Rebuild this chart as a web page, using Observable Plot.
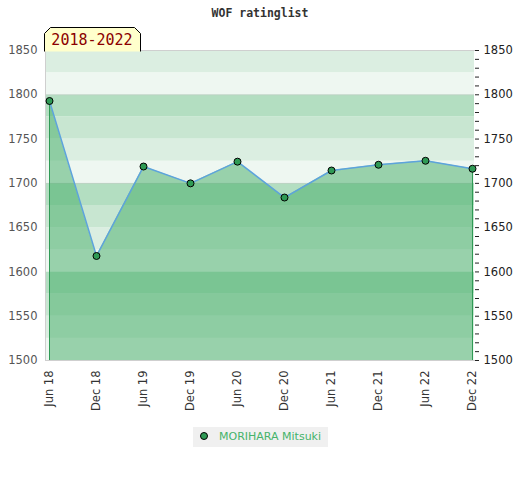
<!DOCTYPE html>
<html>
<head>
<meta charset="utf-8">
<script src="https://cdn.jsdelivr.net/npm/d3@7"></script>
<script src="https://cdn.jsdelivr.net/npm/@observablehq/plot@0.6"></script>
<style>
  html, body { margin: 0; padding: 0; background: #fff; }
  #wrap { position: relative; width: 520px; height: 480px; font-family: "DejaVu Sans", sans-serif; }
  #title { position: absolute; left: 0; width: 520px; top: 6px; text-align: center;
           font: bold 11.5px "DejaVu Sans Mono", monospace; color: #333; }
  #badge { position: absolute; left: 44px; top: 27px; }
  #chart { position: absolute; left: 0; top: 0; }
  #legend { position: absolute; left: 193px; top: 427px; width: 135px; height: 20px; background: #f0f0f0; }
  #legend svg { position: absolute; left: 0; top: 0; }
  #legend span { position: absolute; left: 26px; top: 3px; font: 11px "DejaVu Sans", sans-serif; color: #45b36a; white-space: nowrap; }
</style>
</head>
<body>
<div id="wrap">
  <div id="chart"></div>
  <div id="title">WOF ratinglist</div>
  <svg id="badge" width="100" height="26">
    <path d="M0.5,24.5 V6.5 L6.5,0.5 H90.5 L96.5,6.5 V24.5" fill="#ffffcc" stroke="#000" stroke-width="1"/>
    <text x="48" y="18" text-anchor="middle" font-family="DejaVu Sans Mono, monospace" font-size="15" fill="#8b0000">2018-2022</text>
  </svg>
  <div id="legend">
    <svg width="30" height="20"><circle cx="11" cy="9" r="3.5" fill="#2f9a55" stroke="#000" stroke-width="1"/></svg>
    <span>MORIHARA Mitsuki</span>
  </div>
</div>
<script>
const periods = ["Jun 18","Dec 18","Jun 19","Dec 19","Jun 20","Dec 20","Jun 21","Dec 21","Jun 22","Dec 22"];
const ratings = [1793, 1618, 1719, 1700, 1724.5, 1684, 1714.5, 1721, 1725.5, 1716.5];
const yTicks = [1500, 1550, 1600, 1650, 1700, 1750, 1800, 1850];
const bandStarts = d3.range(1500, 1850, 25);
const bandShades = ["#eef7f1", "#dbeee1", "#c8e6d1", "#b3dec1"];
const playerName = "MORIHARA Mitsuki";

const data = periods.map((p, i) => ({period: p, rating: ratings[i]}));
const bands = bandStarts.map(b => ({y1: b, y2: b + 25, shade: bandShades[((b - 1500) / 25) % 4]}));
const minorTicks = d3.range(1500, 1851, 10);
const first = data[0], last = data[data.length - 1];

const chart = Plot.plot({
  width: 520,
  height: 420,
  marginLeft: 45,
  marginRight: 46,
  marginTop: 50,
  marginBottom: 60,
  style: {fontFamily: "DejaVu Sans, sans-serif", fontSize: "11.5px", background: "transparent"},
  x: {type: "point", domain: periods, padding: 0, insetLeft: 4, insetRight: 2},
  y: {domain: [1500, 1850]},
  marks: [
    Plot.rect(bands, {y1: "y1", y2: "y2", fill: "shade"}),
    Plot.ruleY([1800, 1700], {stroke: "#c8c8c8", strokeWidth: 1, strokeOpacity: 0.5}),
    Plot.frame({anchor: "left", stroke: "#cfcfcf"}),
    Plot.frame({anchor: "top", stroke: "#cfcfcf"}),
    Plot.frame({anchor: "bottom", stroke: "#cfcfcf"}),
    Plot.areaY(data, {x: "period", y1: 1500, y2: "rating", fill: "rgb(65,171,101)", fillOpacity: 0.5}),
    Plot.ruleX([first, last], {x: "period", y1: 1500, y2: "rating", stroke: "#2f9a55", strokeWidth: 1}),
    Plot.lineY(data, {x: "period", y: "rating", stroke: "#5da3dc", strokeWidth: 1.5}),
    Plot.dot(data, {x: "period", y: "rating", r: 3.5, fill: "#2f9a55", stroke: "#000", strokeWidth: 1}),
    Plot.axisY({anchor: "left", ticks: yTicks, tickFormat: "d", tickSize: 0, tickPadding: 8, label: null, color: "#555"}),
    Plot.axisY({anchor: "right", ticks: minorTicks, tickSize: 4, tickFormat: () => "", label: null, stroke: "#222"}),
    Plot.axisY({anchor: "right", ticks: yTicks, tickFormat: "d", tickSize: 0, tickPadding: 9, label: null, color: "#222"}),
    Plot.axisX({ticks: periods, tickSize: 0, tickPadding: 10, tickRotate: -90, label: null, color: "#333"})
  ]
});
document.getElementById("chart").appendChild(chart);
document.querySelector("#legend span").textContent = playerName;
</script>
</body>
</html>
